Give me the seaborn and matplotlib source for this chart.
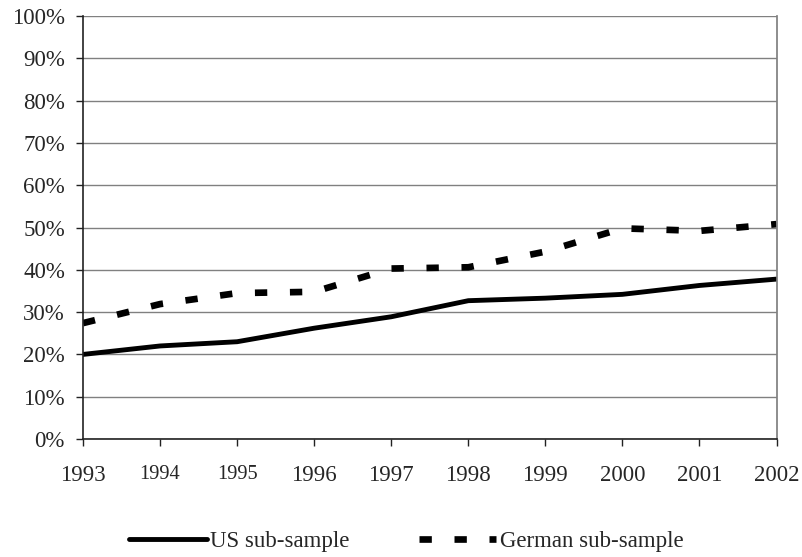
import pandas as pd
import matplotlib
matplotlib.use("Agg")
import matplotlib.pyplot as plt
import seaborn as sns

years = [1993, 1994, 1995, 1996, 1997, 1998, 1999, 2000, 2001, 2002]
us_share = [20.0, 22.0, 23.0, 26.2, 28.9, 32.7, 33.3, 34.2, 36.3, 37.8]
german_share = [27.4, 31.9, 34.5, 34.8, 40.3, 40.6, 44.3, 49.8, 49.2, 50.8]
y_ticks = list(range(0, 101, 10))

df = pd.DataFrame({"Year": years, "US sub-sample": us_share,
                   "German sub-sample": german_share})

sns.set_theme(style="white")
plt.rcParams['font.family'] = ['Liberation Serif', 'DejaVu Serif']

fig = plt.figure(figsize=(8.03, 5.57), dpi=100)
ax = fig.add_axes([0.1034, 0.2118, 0.8636, 0.7595])

sns.lineplot(data=df, x="Year", y="US sub-sample", ax=ax, color="black",
             linewidth=3.5, label="US sub-sample")
sns.lineplot(data=df, x="Year", y="German sub-sample", ax=ax, color="black",
             linewidth=4.8, dashes=(1.85, 3.4), label="German sub-sample")
ax.lines[1].set_dash_capstyle("butt")

ax.set_xlim(1993, 2002)
ax.set_ylim(0, 100)
ax.set_yticks(y_ticks)
ax.set_yticklabels([f"{t}%" for t in y_ticks], fontsize=16.5)
ax.set_xticks(years)
ax.set_xticklabels([str(y) for y in years], fontsize=16.5)
for lab in ax.get_xticklabels():
    if lab.get_text() in ("1994", "1995"):
        lab.set_fontsize(14.7)
ax.set_xlabel("")
ax.set_ylabel("")

ax.grid(axis="y", color="#808080", linewidth=1)
ax.set_axisbelow(True)
for side in ["left", "bottom"]:
    ax.spines[side].set_color("#222222")
    ax.spines[side].set_linewidth(1.2)
ax.spines["right"].set_color("#808080")
ax.spines["top"].set_visible(False)
ax.tick_params(axis="both", direction="out", length=5, width=1,
               color="#222222", left=True, bottom=True)
ax.tick_params(axis="y", pad=8)
ax.tick_params(axis="x", pad=14)

ax.get_legend().remove()
handles, labels = ax.get_legend_handles_labels()
fig.legend(handles, labels, loc="center", bbox_to_anchor=(0.506, 0.027),
           ncol=2, frameon=False, fontsize=16.5, handlelength=3.4,
           handletextpad=0.17, columnspacing=3.0)

fig.savefig("out.png", dpi=100, facecolor="white")
